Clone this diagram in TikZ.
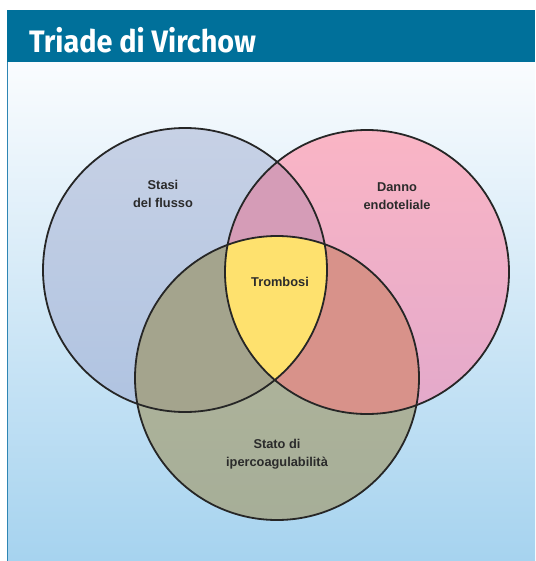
\documentclass[tikz,border=0pt]{standalone}
\usepackage{fontspec}
\setmainfont{Fira Sans}
\newfontfamily\labelfont{Liberation Sans}
\usetikzlibrary{shadings}
\definecolor{headblue}{HTML}{00709A}
\definecolor{bgtop}{HTML}{FAFCFE}
\definecolor{bgbot}{HTML}{A6D3EF}
\definecolor{edgeblue}{HTML}{2E86B4}
\definecolor{outline}{HTML}{262626}
\definecolor{stasiA}{HTML}{C7D1E5}
\definecolor{stasiB}{HTML}{AFC3E1}
\definecolor{dannoA}{HTML}{FAB5C5}
\definecolor{dannoB}{HTML}{E3A9CB}
\definecolor{statoA}{HTML}{B4B79C}
\definecolor{statoB}{HTML}{A6AE98}
\definecolor{sdOver}{HTML}{D59CB7}
\definecolor{ssOver}{HTML}{A4A48D}
\definecolor{dsOver}{HTML}{D8928A}
\definecolor{trombo}{HTML}{FEE16E}
\definecolor{labeltext}{HTML}{2B2B2B}
\tikzset{
  label text/.style={font=\labelfont\fontsize{12.8}{17.5}\selectfont\bfseries, text=labeltext, align=center},
  ring/.style={draw=outline, line width=1.8pt}
}
\begin{document}
\begin{tikzpicture}[x=1pt,y=-1pt]
  \useasboundingbox (0,0) rectangle (535,561);
  % panel background and frame
  \shade[top color=bgtop, bottom color=bgbot] (7,62) rectangle (535,561);
  \draw[edgeblue, line width=1pt] (7.5,62) -- (7.5,561);
  \fill[headblue] (7,10) rectangle (535,62);
  \node[anchor=west, text=white, inner sep=0pt] (title) at (29,40)
    {\scalebox{0.93}[1]{\fontsize{31}{34}\selectfont\bfseries Triade di Virchow}};
  % circle centres
  \coordinate (cs) at (185,270);
  \coordinate (cd) at (367,272);
  \coordinate (cb) at (277,378);
  \def\R{142}
  % single sets
  \shade[top color=stasiA, bottom color=stasiB] (cs) circle[radius=\R];
  \shade[top color=dannoA, bottom color=dannoB] (cd) circle[radius=\R];
  \shade[top color=statoA, bottom color=statoB] (cb) circle[radius=\R];
  % pairwise overlaps
  \begin{scope}
    \clip (cs) circle[radius=\R];
    \fill[sdOver] (cd) circle[radius=\R];
    \fill[ssOver] (cb) circle[radius=\R];
  \end{scope}
  \begin{scope}
    \clip (cd) circle[radius=\R];
    \fill[dsOver] (cb) circle[radius=\R];
  \end{scope}
  % triple overlap
  \begin{scope}
    \clip (cs) circle[radius=\R];
    \clip (cd) circle[radius=\R];
    \fill[trombo] (cb) circle[radius=\R];
  \end{scope}
  % outlines
  \draw[ring] (cs) circle[radius=\R];
  \draw[ring] (cd) circle[radius=\R];
  \draw[ring] (cb) circle[radius=\R];
  % labels
  \node[label text] (stasi) at (163,194) {Stasi\\del flusso};
  \node[label text] (danno) at (397,196) {Danno\\endoteliale};
  \node[label text] (trombosi) at (280,282) {Trombosi};
  \node[label text] (stato) at (277,454) {Stato di\\ipercoagulabilità};
\end{tikzpicture}
\end{document}
